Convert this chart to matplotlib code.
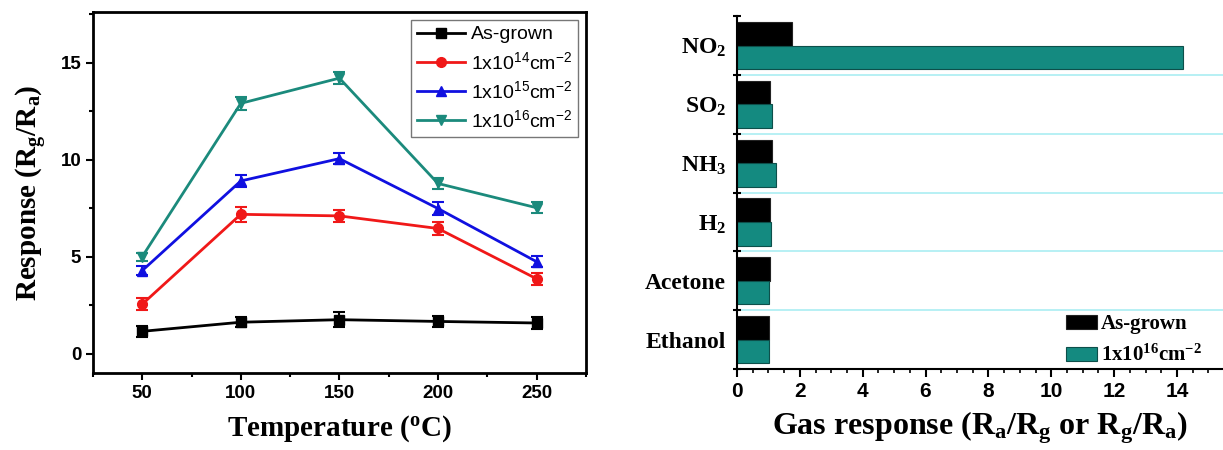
import numpy as np
import matplotlib
matplotlib.use('Agg')
import matplotlib.pyplot as plt
from matplotlib.ticker import MultipleLocator, FixedLocator

SERIF = 'Liberation Serif'
SANS = 'Liberation Sans'

## Data, left panel: response vs temperature
temps = [50, 100, 150, 200, 250]
resp_asgrown = [1.15, 1.62, 1.75, 1.66, 1.58]
resp_1e14 = [2.55, 7.18, 7.1, 6.45, 3.86]
resp_1e15 = [4.28, 8.9, 10.05, 7.48, 4.74]
resp_1e16 = [5.0, 12.9, 14.2, 8.77, 7.52]
err_asgrown = [0.3, 0.25, 0.38, 0.28, 0.3]
err_1e14 = [0.3, 0.38, 0.3, 0.35, 0.3]
err_1e15 = [0.25, 0.3, 0.28, 0.35, 0.3]
err_1e16 = [0.2, 0.35, 0.3, 0.3, 0.28]
labels_left = ['As-grown',
               r'1x10$\mathregular{^{14}}$cm$\mathregular{^{-2}}$',
               r'1x10$\mathregular{^{15}}$cm$\mathregular{^{-2}}$',
               r'1x10$\mathregular{^{16}}$cm$\mathregular{^{-2}}$']

## Data, right panel: gas response per gas (bottom to top)
gases = ['Ethanol', 'Acetone', r'H$\mathregular{_2}$', r'NH$\mathregular{_3}$',
         r'SO$\mathregular{_2}$', r'NO$\mathregular{_2}$']
gas_asgrown = [1.02, 1.05, 1.05, 1.12, 1.05, 1.75]
gas_1e16 = [1.01, 1.03, 1.07, 1.25, 1.1, 14.2]
labels_right = ['As-grown', r'1x10$\mathregular{^{16}}$cm$\mathregular{^{-2}}$']

teal = '#148a80'

fig = plt.figure(figsize=(12.23, 4.5), dpi=100)

## Left panel
ax = fig.add_axes([0.076, 0.171, 0.403, 0.802])
series = [(resp_asgrown, err_asgrown, 'black', 's'),
          (resp_1e14, err_1e14, '#f01818', 'o'),
          (resp_1e15, err_1e15, '#1010e0', '^'),
          (resp_1e16, err_1e16, '#1b8a7c', 'v')]
for (vals, errs, col, mk), lab in zip(series, labels_left):
    ax.errorbar(temps, vals, yerr=errs, color=col, fmt='none',
                elinewidth=1.5, capsize=4, capthick=1.5)
    ax.plot(temps, vals, color=col, marker=mk, ms=7, lw=2, label=lab)

ax.set_xlim(25, 275)
ax.set_ylim(-1.0, 17.6)
ax.xaxis.set_major_locator(MultipleLocator(50))
ax.xaxis.set_minor_locator(MultipleLocator(25))
ax.yaxis.set_major_locator(MultipleLocator(5))
ax.yaxis.set_minor_locator(MultipleLocator(2.5))
ax.tick_params(which='both', direction='out', width=1.5)
ax.tick_params(which='major', length=5, labelsize=13.5)
ax.tick_params(which='minor', length=3)
for lbl in ax.get_xticklabels() + ax.get_yticklabels():
    lbl.set_fontfamily(SANS)
    lbl.set_fontweight('bold')
for s in ax.spines.values():
    s.set_linewidth(2)
ax.set_xlabel(r'Temperature ($\mathregular{^o}$C)', family=SERIF, weight='bold',
              fontsize=21, labelpad=8)
ax.set_ylabel(r'Response (R$\mathregular{_g}$/R$\mathregular{_a}$)', family=SERIF,
              weight='bold', fontsize=21, labelpad=8)
leg = ax.legend(loc='upper right', prop={'family': SANS, 'size': 14},
                fancybox=False, edgecolor='#777777', framealpha=1,
                handlelength=2.5, labelspacing=0.38, borderpad=0.3,
                handletextpad=0.3, borderaxespad=0.4)
leg.get_frame().set_linewidth(1)

## Right panel
ax2 = fig.add_axes([0.6026, 0.18, 0.397, 0.784])
ypos = np.arange(len(gases))
ax2.barh(ypos + 0.2, gas_asgrown, height=0.4, color='black',
         edgecolor='#222222', lw=0.8, label=labels_right[0])
ax2.barh(ypos - 0.2, gas_1e16, height=0.4, color=teal,
         edgecolor='#0d4f4a', lw=0.8, label=labels_right[1])
for yb in ypos[:-1] + 0.5:
    ax2.axhline(yb, color='#aaeef2', lw=1.2, zorder=0)

ax2.set_xlim(0, 15.45)
ax2.set_ylim(-0.5, len(gases) - 0.5)
ax2.xaxis.set_major_locator(MultipleLocator(2))
ax2.xaxis.set_minor_locator(MultipleLocator(0.5))
ax2.set_yticks(ypos)
ax2.set_yticklabels(gases)
ax2.yaxis.set_minor_locator(FixedLocator(np.arange(len(gases) + 1) - 0.5))
ax2.tick_params(axis='y', which='major', length=0, pad=8, labelsize=17)
ax2.tick_params(axis='y', which='minor', direction='inout', length=6, width=1.5)
ax2.tick_params(axis='x', which='major', direction='out', length=6, width=1.5,
                labelsize=15)
ax2.tick_params(axis='x', which='minor', direction='out', length=3, width=1.2)
for lbl in ax2.get_xticklabels():
    lbl.set_fontfamily(SANS)
    lbl.set_fontweight('bold')
for lbl in ax2.get_yticklabels():
    lbl.set_fontfamily(SERIF)
    lbl.set_fontweight('bold')
ax2.spines['top'].set_visible(False)
ax2.spines['right'].set_visible(False)
ax2.spines['left'].set_linewidth(1.5)
ax2.spines['bottom'].set_linewidth(1.5)
ax2.set_xlabel(r'Gas response (R$\mathregular{_a}$/R$\mathregular{_g}$ or '
               r'R$\mathregular{_g}$/R$\mathregular{_a}$)',
               family=SERIF, weight='bold', fontsize=23, labelpad=6)
ax2.legend(loc='lower right', frameon=False,
           prop={'family': SERIF, 'weight': 'bold', 'size': 15},
           handlelength=1.5, handleheight=0.65, handletextpad=0.2,
           labelspacing=0.5, borderaxespad=0.0, bbox_to_anchor=(0.975, -0.015))

fig.savefig('out.png', dpi=100)
